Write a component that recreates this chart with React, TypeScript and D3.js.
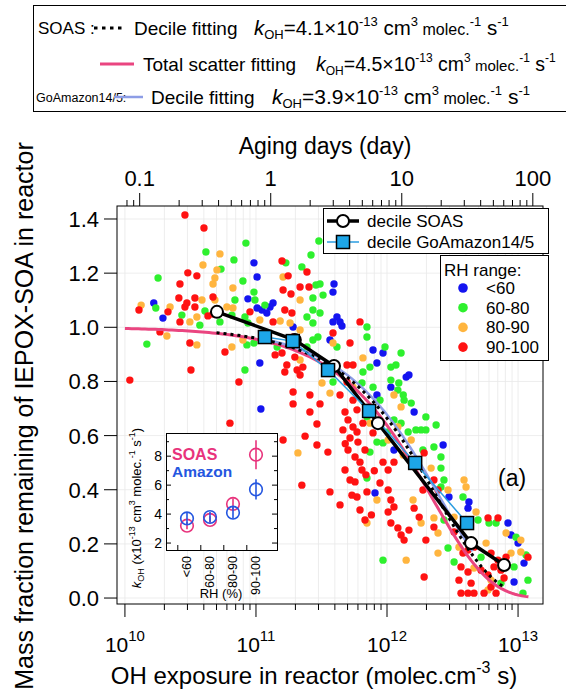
import React from 'react';
import * as d3 from 'd3';

const FONT = "'Liberation Sans', Arial, Helvetica, sans-serif";
const W = 566;
const H = 692;
const FRAME = { left: 117, right: 543, top: 206, bottom: 604 };

// axis domains
const X_DOMAIN: [number, number] = [8.7e9, 1.55e13];
const Y_DOMAIN: [number, number] = [-0.022, 1.448];
const OH_PER_DAY = 1.5e6 * 86400; // OH exposure of one aging day
const Y_TICKS = [0, 0.2, 0.4, 0.6, 0.8, 1.0, 1.2, 1.4];

// RH classes
const RH_LABELS = ['<60', '60-80', '80-90', '90-100'];
const RH_COLORS = ['#1414f0', '#2ef02e', '#ffb53f', '#ff1212'];

// scatter: [OH exposure (molec cm-3 s), mass fraction remaining]
const scatterBlue: [number, number][] = [
  [9.65e10, 1.238], [1.02e11, 1.186], [3.94e11, 1.16], [3.87e11, 1.13], [8.68e10, 1.105],
  [1.35e11, 1.09], [1.66e10, 1.09], [1.95e10, 1.034], [1.02e11, 1.071], [1.11e11, 1.064],
  [1.21e11, 1.053], [1.28e11, 1.075], [4.15e11, 1.038], [4.38e11, 1.02], [4.53e11, 1.005],
  [3.87e11, 1.02], [3.67e11, 0.953], [7.82e11, 0.916], [9.32e11, 0.905], [8.38e11, 0.868],
  [1.4e12, 0.816], [1.47e12, 0.824], [1.07e11, 0.868], [1.92e11, 1.001], [1.09e11, 0.698],
  [1.07e12, 0.779], [8.38e11, 0.75], [1.61e12, 0.687], [1.13e12, 0.547], [2.68e12, 0.565],
  [8.1e11, 0.388], [2.97e12, 0.373], [4.22e12, 0.355], [8.38e12, 0.277], [8.84e12, 0.233],
  [1.0e13, 0.203], [1.11e13, 0.129], [9.32e12, 0.059], [4.15e12, 0.332],
];

const scatterGreen: [number, number][] = [
  [8.38e10, 1.311], [4.15e10, 1.278], [3.02e11, 1.319], [6.79e10, 1.249], [1.69e11, 1.238],
  [2.63e11, 1.267], [5.41e10, 1.215], [1.79e10, 1.182], [7.95e10, 1.171], [2.24e11, 1.223],
  [2.87e11, 1.156], [3.08e11, 1.16], [9.65e10, 1.13], [6.91e10, 1.101], [9.82e10, 1.101],
  [1.17e11, 1.082], [2.72e11, 1.108], [3.25e11, 1.119], [1.72e10, 1.071], [4.08e10, 1.06],
  [2.72e10, 1.045], [3.73e10, 1.008], [6.55e10, 1.045], [5.31e10, 1.02], [8.24e10, 1.038],
  [8.68e10, 1.016], [2.72e11, 1.064], [2.45e11, 1.038], [3.08e11, 1.053], [2.72e11, 1.016],
  [1.47e10, 0.938], [8.53e10, 0.935], [9.65e10, 0.942], [1.45e11, 0.927], [2.45e11, 0.927],
  [2.72e11, 0.953], [2.97e11, 0.964], [4.15e11, 0.927], [7.03e11, 0.964], [7.03e11, 1.001],
  [9.65e11, 0.927], [1.28e12, 0.905], [6.55e11, 0.835], [7.41e11, 0.853], [1.07e12, 0.853],
  [1.17e12, 0.861], [1.23e12, 0.794], [1.07e12, 0.805], [8.24e10, 0.842], [3.87e11, 0.798],
  [6.44e11, 0.794], [7.82e11, 0.779], [1.21e12, 0.768], [1.33e12, 0.75], [8.84e11, 0.731],
  [1.35e12, 0.731], [1.53e12, 0.72], [7.03e11, 0.669], [8.38e11, 0.576], [7.41e11, 0.539],
  [9.32e11, 0.573], [1.02e12, 0.613], [1.13e12, 0.658], [1.28e12, 0.646], [1.45e12, 0.613],
  [1.66e12, 0.621], [1.82e12, 0.621], [1.98e12, 0.621], [1.88e12, 0.547], [2.28e12, 0.558],
  [2.58e12, 0.521], [2.37e12, 0.639], [1.98e12, 0.669], [2.58e12, 0.48], [7.03e11, 0.443],
  [9.32e11, 0.14], [2.72e12, 0.288], [2.58e12, 0.41], [2.72e12, 0.436], [3.8e12, 0.373],
  [4.95e12, 0.288], [6.79e12, 0.277], [9.65e12, 0.225], [1.15e13, 0.159], [2.92e12, 0.185],
  [5.22e12, 0.151], [9.32e12, 0.115], [1.19e13, 0.066], [7.41e12, 0.055], [1.09e13, 0.018],
  [3.25e12, 0.133], [6.0e12, 0.277],
];

const scatterOrange: [number, number][] = [
  [5.31e10, 1.271], [3.94e10, 1.23], [5.04e10, 1.212], [4.86e10, 1.182], [4.7e10, 1.16],
  [1.61e11, 1.186], [6.67e10, 1.145], [3.87e10, 1.101], [4.86e10, 1.101], [2.17e11, 1.101],
  [1.33e10, 1.082], [2.21e10, 1.075], [3.54e10, 1.038], [3.13e10, 1.02], [6.0e10, 1.075],
  [6.67e10, 1.071], [1.07e11, 1.027], [1.53e11, 1.023], [1.82e11, 1.016], [2.17e11, 0.99],
  [2.09e10, 0.968], [3.54e10, 0.935], [6.55e10, 0.927], [7.95e10, 0.953], [2.17e11, 0.879],
  [3.87e11, 0.942], [6.55e11, 0.887], [2.09e11, 0.536], [3.19e11, 0.794], [5.5e11, 0.779],
  [1.13e12, 0.75], [1.28e12, 0.706], [3.67e11, 0.757], [7.41e11, 0.646], [1.02e12, 0.584],
  [1.21e12, 0.632], [1.53e12, 0.584], [1.33e12, 0.528], [1.61e12, 0.499], [2.17e12, 0.48],
  [8.38e11, 0.362], [7.03e11, 0.277], [1.4e12, 0.14], [1.58e12, 0.362], [1.82e12, 0.277],
  [2.45e12, 0.24], [2.45e12, 0.166], [2.92e12, 0.399], [2.28e12, 0.296], [3.87e12, 0.436],
  [4.01e12, 0.41], [4.78e12, 0.318], [8.1e12, 0.24], [1.05e13, 0.214], [1.05e13, 0.17],
  [3.25e12, 0.299], [3.54e12, 0.188], [5.7e12, 0.203], [8.84e12, 0.166], [4.61e12, 0.111],
  [6.22e12, 0.066], [5.9e12, 0.03],
];

const scatterRed: [number, number][] = [
  [2.87e10, 1.415], [4.01e10, 1.367], [1.58e11, 1.245], [3.02e10, 1.201], [3.54e10, 1.19],
  [2.63e10, 1.16], [2.45e11, 1.204], [1.76e11, 1.19], [2.17e11, 1.149], [2.54e11, 1.149],
  [1.61e11, 1.138], [1.85e11, 1.123], [2.58e10, 1.108], [3.42e10, 1.108], [4.7e10, 1.112],
  [1.28e10, 1.064], [2.13e10, 1.057], [2.87e10, 1.075], [2.97e10, 1.09], [3.42e10, 1.075],
  [4.3e10, 1.042], [2.63e10, 1.02], [4.7e10, 1.049], [9.0e10, 1.057], [1.66e11, 1.064],
  [1.88e11, 1.053], [1.35e11, 1.02], [6.22e11, 1.02], [1.85e10, 0.983], [3.13e10, 0.942],
  [5.8e10, 0.909], [1.4e11, 0.898], [1.58e11, 0.905], [1.72e11, 0.861], [1.98e11, 0.89],
  [2.06e11, 0.842], [1.66e11, 0.835], [2.28e11, 0.853], [3.87e11, 0.979], [5.22e11, 0.942],
  [4.95e11, 0.861], [5.5e11, 0.861], [1.09e10, 0.805], [3.19e10, 0.842], [7.41e10, 0.798],
  [2.17e11, 0.824], [1.92e11, 0.964], [6.33e10, 0.646], [1.61e11, 0.584], [2.24e11, 0.417],
  [3.67e11, 0.392], [2.37e11, 0.598], [2.92e11, 0.565], [3.54e11, 0.539], [1.92e11, 0.761],
  [1.92e11, 0.717], [2.58e11, 0.75], [3.08e11, 0.717], [2.58e11, 0.687], [2.92e11, 0.643],
  [4.95e11, 0.798], [5.5e11, 0.731], [5.9e11, 0.695], [4.78e11, 0.687], [5.04e11, 0.658],
  [5.5e11, 0.632], [5.9e11, 0.613], [5.22e11, 0.591], [6.0e11, 0.576], [6.55e11, 0.646],
  [7.82e11, 0.61], [6.79e11, 0.547], [5.04e11, 0.547], [5.7e11, 0.521], [6.22e11, 0.502],
  [9.32e11, 0.502], [1.02e12, 0.473], [1.13e12, 0.502], [1.92e12, 0.536], [5.7e11, 0.429],
  [5.9e11, 0.373], [7.03e11, 0.392], [8.84e11, 0.425], [1.02e12, 0.399], [1.07e12, 0.362],
  [1.13e12, 0.336], [1.02e12, 0.318], [1.07e12, 0.277], [1.21e12, 0.259], [1.28e12, 0.233],
  [1.35e12, 0.214], [1.47e12, 0.251], [6.22e11, 0.325], [1.92e12, 0.078], [1.61e12, 0.332],
  [1.88e12, 0.399], [1.76e12, 0.299], [1.98e12, 0.214], [2.28e12, 0.262], [2.45e12, 0.399],
  [2.28e12, 0.436], [5.9e12, 0.296], [7.03e12, 0.296], [1.19e13, 0.151], [3.25e12, 0.244],
  [3.8e12, 0.166], [4.15e12, 0.177], [4.61e12, 0.188], [6.22e12, 0.166], [7.03e12, 0.14],
  [8.1e12, 0.151], [3.67e12, 0.115], [4.15e12, 0.096], [5.22e12, 0.103], [5.9e12, 0.085],
  [6.55e12, 0.115], [7.41e12, 0.103], [3.67e12, 0.018], [4.15e12, 0.018], [4.61e12, 0.018],
  [5.5e12, 0.018], [6.22e12, 0.041], [6.79e12, 0.018], [3.54e12, 0.066], [4.38e12, 0.055],
  [7.82e12, 0.074], [4.38e11, 0.75], [4.61e11, 0.621], [6.44e11, 0.473], [4.78e11, 0.473],
  [5.22e11, 0.436], [5.4e11, 0.38], [4.38e11, 0.344], [6.79e11, 0.288], [7.6e11, 0.307],
  [4.8e11, 0.57], [6.9e11, 0.455], [8.0e11, 0.47],
];

// decile averages
const decileSoasExposure = [5.04e10, 1.98e11, 3.94e11, 8.53e11, 4.38e12, 7.82e12];
const decileSoasFraction = [1.057, 0.953, 0.857, 0.646, 0.203, 0.122];
const decileAmazonExposure = [1.17e11, 1.91e11, 3.55e11, 7.3e11, 1.64e12, 4.08e12];
const decileAmazonFraction = [0.964, 0.949, 0.842, 0.691, 0.499, 0.277];

// fitted kOH (cm3 molec-1 s-1) and fitted exposure ranges
const K_SOAS_DECILE = 4.1e-13;
const K_SOAS_TOTAL = 4.5e-13;
const K_AMAZON_DECILE = 3.9e-13;
const RANGE_SOAS_DECILE: [number, number] = [5.0e10, 8.0e12];
const RANGE_SOAS_TOTAL: [number, number] = [1.0e10, 1.2e13];
const RANGE_AMAZON_DECILE: [number, number] = [1.17e11, 4.5e12];

// inset: kOH per RH class (x1e-13)
const insetCategories = ['<60', '60-80', '80-90', '90-100'];
const insetSoasK = [3.2, 3.6, 4.7, 8.1];
const insetSoasErr = [0.25, 0.25, 0.4, 1.0];
const insetAmazonK = [3.7, 3.8, 4.1, 5.7];
const insetAmazonErr = [0.45, 0.35, 0.4, 0.7];
const insetYTicks = [2, 3, 4, 5, 6, 7, 8, 9];

const COL = {
  pink: '#ea4580',
  lavender: '#8d9de6',
  sky: '#1da6e8',
  skyLine: '#2a9ce0',
  soasText: '#e8337c',
  amazonText: '#2456e0',
  grid: '#e9e9e9',
};

function KohLine({ x, y, value, size }: { x: number; y: number; value: string; size: number }) {
  const s = Math.round(size * 0.62);
  const m = Math.round(size * 0.78);
  const up = Math.round(size * 0.45);
  return (
    <text x={x} y={y} fontSize={size}>
      <tspan fontStyle="italic">k</tspan>
      <tspan fontSize={s} dy={4}>OH</tspan>
      <tspan dy={-4}>{'=' + value + '×10'}</tspan>
      <tspan fontSize={s} dy={-up}>-13</tspan>
      <tspan dy={up}>{' cm'}</tspan>
      <tspan fontSize={s} dy={-up}>3</tspan>
      <tspan fontSize={m} dy={up}>{' molec.'}</tspan>
      <tspan fontSize={s} dy={-up}>-1</tspan>
      <tspan dy={up}>{' s'}</tspan>
      <tspan fontSize={s} dy={-up}>-1</tspan>
    </text>
  );
}

export default function App() {
  const x = d3.scaleLog().domain(X_DOMAIN).range([FRAME.left, FRAME.right]);
  const y = d3.scaleLinear().domain(Y_DOMAIN).range([FRAME.bottom, FRAME.top]);
  const xDays = d3
    .scaleLog()
    .domain([X_DOMAIN[0] / OH_PER_DAY, X_DOMAIN[1] / OH_PER_DAY])
    .range([FRAME.left, FRAME.right]);

  const isPow10 = (v: number) => Math.abs(Math.log10(v) - Math.round(Math.log10(v))) < 1e-6;
  const xTicks = x.ticks().filter((v) => x(v) > FRAME.left + 4 && x(v) < FRAME.right - 1);
  const dayTicks = xDays.ticks().filter((v) => xDays(v) > FRAME.left + 4 && xDays(v) < FRAME.right - 1);

  const line = d3
    .line<[number, number]>()
    .x((d) => x(d[0]))
    .y((d) => y(d[1]));

  const fitPath = (k: number, r: [number, number]) => {
    const n = 120;
    const pts: [number, number][] = d3.range(n + 1).map((i) => {
      const e = r[0] * Math.pow(r[1] / r[0], i / n);
      return [e, Math.exp(-k * e)];
    });
    return line(pts) || '';
  };

  const soasPts: [number, number][] = decileSoasExposure.map((e, i) => [e, decileSoasFraction[i]]);
  const amazonPts: [number, number][] = decileAmazonExposure.map((e, i) => [e, decileAmazonFraction[i]]);

  const scatterSets = [scatterBlue, scatterGreen, scatterOrange, scatterRed];

  // inset geometry
  const IN = { left: 166, right: 277, top: 433, bottom: 550 };
  const iy = d3.scaleLinear().domain([1.52, 9.6]).range([IN.bottom, IN.top]);
  const ix = d3.scalePoint<string>().domain(insetCategories).range([IN.left + 21, IN.right - 21]);
  const istep = ix.step();

  // legend rows (top box)
  const r1 = 28;
  const r2 = 64;
  const r3 = 97;

  return (
    <svg
      width={W}
      height={H}
      viewBox={`0 0 ${W} ${H}`}
      style={{ position: 'absolute', left: 0, top: 0, background: '#fff' }}
      fontFamily={FONT}
    >
      <rect x={0} y={0} width={W} height={H} fill="#fff" />

      {/* top legend box */}
      <rect x={33.5} y={5.5} width={560} height={106} fill="#fff" stroke="#000" strokeWidth={1} />
      <text x={38} y={r1 + 6} fontSize={17}>SOAS :</text>
      <line x1={94} x2={122} y1={r1} y2={r1} stroke="#000" strokeWidth={3} strokeDasharray="3.5,4.5" />
      <text x={134} y={r1 + 7} fontSize={19}>Decile fitting</text>
      <KohLine x={254} y={r1 + 7} value="4.1" size={20.5} />
      <line x1={100} x2={134} y1={r2} y2={r2} stroke={COL.pink} strokeWidth={3} />
      <text x={143} y={r2 + 7} fontSize={19}>Total scatter fitting</text>
      <KohLine x={316} y={r2 + 7} value="4.5" size={19.5} />
      <text x={36} y={r3 + 5} fontSize={12.5}>GoAmazon14/5:</text>
      <line x1={114} x2={143} y1={r3} y2={r3} stroke={COL.lavender} strokeWidth={2.5} />
      <text x={151} y={r3 + 7} fontSize={19}>Decile fitting</text>
      <KohLine x={272} y={r3 + 7} value="3.9" size={21} />

      {/* grid */}
      <g stroke={COL.grid} strokeWidth={0.8}>
        {xTicks.map((v, i) => (
          <line key={'gx' + i} x1={x(v)} x2={x(v)} y1={FRAME.top} y2={FRAME.bottom} />
        ))}
        {Y_TICKS.map((v, i) => (
          <line key={'gy' + i} x1={FRAME.left} x2={FRAME.right} y1={y(v)} y2={y(v)} />
        ))}
      </g>

      {/* scatter */}
      {scatterSets.map((set, si) => (
        <g key={'s' + si} fill={RH_COLORS[si]}>
          {set.map((d, i) => (
            <circle key={i} cx={x(d[0])} cy={y(d[1])} r={3.7} />
          ))}
        </g>
      ))}

      {/* fits */}
      <path d={fitPath(K_SOAS_TOTAL, RANGE_SOAS_TOTAL)} fill="none" stroke={COL.pink} strokeWidth={3} />
      <path d={fitPath(K_AMAZON_DECILE, RANGE_AMAZON_DECILE)} fill="none" stroke={COL.lavender} strokeWidth={2.5} />
      <path
        d={fitPath(K_SOAS_DECILE, RANGE_SOAS_DECILE)}
        fill="none"
        stroke="#000"
        strokeWidth={3}
        strokeDasharray="3,4"
      />

      {/* deciles */}
      <path d={line(soasPts) || ''} fill="none" stroke="#000" strokeWidth={3.5} />
      <path d={line(amazonPts) || ''} fill="none" stroke={COL.skyLine} strokeWidth={1.5} />
      {soasPts.map((d, i) => (
        <circle key={'sc' + i} cx={x(d[0])} cy={y(d[1])} r={6} fill="#fff" stroke="#000" strokeWidth={2} />
      ))}
      {amazonPts.map((d, i) => (
        <rect
          key={'aq' + i}
          x={x(d[0]) - 6.5}
          y={y(d[1]) - 6.5}
          width={13}
          height={13}
          fill={COL.sky}
          stroke="#000"
          strokeWidth={1.5}
        />
      ))}

      {/* frame */}
      <rect
        x={FRAME.left}
        y={FRAME.top}
        width={FRAME.right - FRAME.left}
        height={FRAME.bottom - FRAME.top}
        fill="none"
        stroke="#000"
        strokeWidth={1}
      />

      {/* left axis */}
      {Y_TICKS.map((v, i) => (
        <g key={'yt' + i}>
          <line x1={FRAME.left - 13} x2={FRAME.left} y1={y(v)} y2={y(v)} stroke="#000" strokeWidth={1} />
          <text x={99} y={y(v)} dy="0.36em" textAnchor="end" fontSize={22}>
            {v.toFixed(1)}
          </text>
        </g>
      ))}

      {/* bottom axis */}
      {xTicks.map((v, i) => (
        <line
          key={'xt' + i}
          x1={x(v)}
          x2={x(v)}
          y1={FRAME.bottom}
          y2={FRAME.bottom + (isPow10(v) ? 13 : 6)}
          stroke="#000"
          strokeWidth={1}
        />
      ))}
      {xTicks.filter(isPow10).map((v, i) => (
        <text key={'xl' + i} x={x(v)} y={652} textAnchor="middle" fontSize={21}>
          10
          <tspan fontSize={15} dy={-11}>
            {String(Math.round(Math.log10(v)))}
          </tspan>
        </text>
      ))}
      <text x={314} y={684} textAnchor="middle" fontSize={24}>
        OH exposure in reactor (molec.cm
        <tspan fontSize={16} dy={-11}>
          -3
        </tspan>
        <tspan dy={11}>{' s)'}</tspan>
      </text>

      {/* top axis */}
      {dayTicks.map((v, i) => (
        <line
          key={'dt' + i}
          x1={xDays(v)}
          x2={xDays(v)}
          y1={FRAME.top}
          y2={FRAME.top - (isPow10(v) ? 13 : 6)}
          stroke="#000"
          strokeWidth={1}
        />
      ))}
      {dayTicks.filter(isPow10).map((v, i) => (
        <text key={'dl' + i} x={xDays(v)} y={186} textAnchor="middle" fontSize={22}>
          {v < 1 ? v.toFixed(1) : String(Math.round(v))}
        </text>
      ))}
      <text x={325} y={154} textAnchor="middle" fontSize={23}>
        Aging days (day)
      </text>

      {/* y title */}
      <text transform="translate(33,416) rotate(-90)" textAnchor="middle" fontSize={25}>
        Mass fraction remaining of IEPOX-SOA in reactor
      </text>

      {/* (a) */}
      <text x={498} y={486} fontSize={23}>
        (a)
      </text>

      {/* decile legend */}
      <rect x={323.5} y={208.5} width={225} height={45} fill="#fff" stroke="#000" strokeWidth={1} />
      <line x1={327} x2={359} y1={221} y2={221} stroke="#000" strokeWidth={3.5} />
      <circle cx={343} cy={221} r={6} fill="#fff" stroke="#000" strokeWidth={2} />
      <text x={367} y={227} fontSize={17}>
        decile SOAS
      </text>
      <line x1={327} x2={359} y1={242} y2={242} stroke={COL.skyLine} strokeWidth={1.5} />
      <rect x={336.5} y={235.5} width={13} height={13} fill={COL.sky} stroke="#000" strokeWidth={1.5} />
      <text x={367} y={248} fontSize={17}>
        decile GoAmazon14/5
      </text>

      {/* RH legend */}
      <rect x={440.5} y={255.5} width={108} height={105} fill="#fff" stroke="#000" strokeWidth={1} />
      <text x={444} y={276} fontSize={17}>
        RH range:
      </text>
      {RH_LABELS.map((lab, i) => (
        <g key={'rh' + i}>
          <circle cx={463} cy={288 + i * 19.7} r={4.8} fill={RH_COLORS[i]} />
          <text x={486} y={288 + i * 19.7 + 6} fontSize={17}>
            {lab}
          </text>
        </g>
      ))}

      {/* inset */}
      <rect
        x={IN.left + 0.5}
        y={IN.top + 0.5}
        width={IN.right - IN.left}
        height={IN.bottom - IN.top}
        fill="#fff"
        stroke="#000"
        strokeWidth={1}
      />
      {insetYTicks.map((v, i) => {
        const major = v % 2 === 0;
        const len = major ? 5 : 3;
        return (
          <g key={'iy' + i}>
            <line x1={IN.left} x2={IN.left + len} y1={iy(v)} y2={iy(v)} stroke="#000" />
            <line x1={IN.right - len} x2={IN.right} y1={iy(v)} y2={iy(v)} stroke="#000" />
            {major && (
              <text x={162} y={iy(v)} dy="0.36em" textAnchor="end" fontSize={14}>
                {v}
              </text>
            )}
          </g>
        );
      })}
      {insetCategories.map((c, i) => (
        <g key={'ix' + i}>
          <line
            x1={(ix(c) as number) - istep * 0.4}
            x2={(ix(c) as number) - istep * 0.4}
            y1={IN.bottom}
            y2={IN.bottom - 5}
            stroke="#000"
          />
          <text
            transform={`translate(${(ix(c) as number) + 4},${IN.bottom + 6}) rotate(-90)`}
            textAnchor="end"
            fontSize={12.5}
          >
            {c}
          </text>
        </g>
      ))}
      <text x={221} y={598} textAnchor="middle" fontSize={13}>
        RH (%)
      </text>
      <text transform="translate(141,508) rotate(-90)" textAnchor="middle" fontSize={13}>
        <tspan fontStyle="italic">k</tspan>
        <tspan fontSize={9} dy={3}>OH</tspan>
        <tspan dy={-3}>{' (x10'}</tspan>
        <tspan fontSize={9} dy={-6}>-13</tspan>
        <tspan dy={6}>{' cm'}</tspan>
        <tspan fontSize={9} dy={-6}>3</tspan>
        <tspan dy={6}>{' molec.'}</tspan>
        <tspan fontSize={9} dy={-6}>-1</tspan>
        <tspan dy={6}>{' s'}</tspan>
        <tspan fontSize={9} dy={-6}>-1</tspan>
        <tspan dy={6}>)</tspan>
      </text>
      {insetCategories.map((c, i) => {
        const cx = ix(c) as number;
        return (
          <g key={'isoas' + i} stroke={COL.soasText} strokeWidth={1.6} fill="none">
            <line x1={cx} x2={cx} y1={iy(insetSoasK[i] - insetSoasErr[i])} y2={iy(insetSoasK[i] + insetSoasErr[i])} />
            <circle cx={cx} cy={iy(insetSoasK[i])} r={6.3} />
          </g>
        );
      })}
      {insetCategories.map((c, i) => {
        const cx = ix(c) as number;
        return (
          <g key={'iamz' + i} stroke={COL.amazonText} strokeWidth={1.6} fill="none">
            <line
              x1={cx}
              x2={cx}
              y1={iy(insetAmazonK[i] - insetAmazonErr[i])}
              y2={iy(insetAmazonK[i] + insetAmazonErr[i])}
            />
            <circle cx={cx} cy={iy(insetAmazonK[i])} r={6.3} />
          </g>
        );
      })}
      <text x={172} y={460} fontSize={16} fontWeight="bold" fill={COL.soasText}>
        SOAS
      </text>
      <text x={172} y={477} fontSize={15.5} fontWeight="bold" fill={COL.amazonText}>
        Amazon
      </text>
    </svg>
  );
}
